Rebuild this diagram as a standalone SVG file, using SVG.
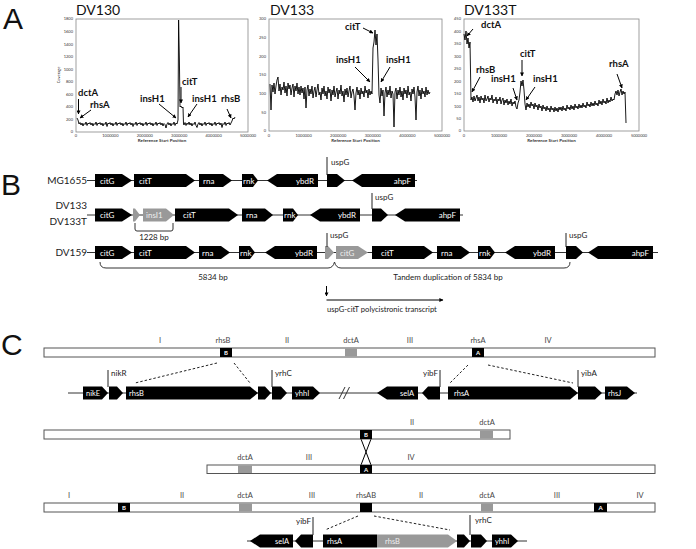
<svg xmlns="http://www.w3.org/2000/svg" width="696" height="549" viewBox="0 0 696 549">
<defs>
<marker id="ah" viewBox="0 0 10 10" refX="9" refY="5" markerWidth="4" markerHeight="4" orient="auto"><path d="M0,0 L10,5 L0,10 z" fill="#000"/></marker>
<marker id="ah2" viewBox="0 0 10 10" refX="9" refY="5" markerWidth="5" markerHeight="4" orient="auto"><path d="M0,0 L10,5 L0,10 z" fill="#000"/></marker>
<style>
text{font-family:Lato,"Liberation Sans",sans-serif;}
.pl{font-family:"Liberation Sans",sans-serif;font-size:30px;fill:#111;}
.tt{font-size:14px;fill:#111;}
.frame{fill:#fff;stroke:#888;stroke-width:0.8;}
.trace{fill:none;stroke:#000;stroke-width:0.9;stroke-linejoin:round;}
.tk{font-size:4px;fill:#333;}
.ax{font-size:4.5px;font-weight:bold;fill:#333;}
.bl{font-size:9.5px;font-weight:bold;fill:#111;}
.arr{stroke:#000;stroke-width:1;fill:none;marker-end:url(#ah);}
.g{fill:#000;}
.gg{fill:#999;}
.gt{font-size:8px;fill:#fff;}
.gtc{font-size:7.5px;fill:#fff;}
.lab{font-size:8px;fill:#222;}
.rl{font-size:10px;fill:#222;}
.bb{stroke:#333;stroke-width:1;fill:none;}
.tick{stroke:#222;stroke-width:1;}
.chr{fill:#fff;stroke:#555;stroke-width:1;}
.cl{font-size:7.5px;fill:#444;text-anchor:middle;}
.bk{font-size:6px;fill:#fff;text-anchor:middle;font-weight:bold;}
.dash{stroke:#222;stroke-width:1;stroke-dasharray:2.5,2;fill:none;}
.soft{opacity:0.99;}
</style>
</defs>

<!-- Panel A -->
<g id="panelA">
<text class="pl" x="3" y="28.5">A</text>
<g id="plot1">
<text class="tt" x="76" y="15">DV130</text>
<rect class="frame" x="76" y="19" width="172" height="113"/>
<g class="tk" text-anchor="end">
<text x="73" y="133.4">0</text><text x="73" y="120.8">200</text><text x="73" y="108.3">400</text><text x="73" y="95.7">600</text><text x="73" y="83.2">800</text><text x="73" y="70.6">1000</text><text x="73" y="58">1200</text><text x="73" y="45.5">1400</text><text x="73" y="32.9">1600</text><text x="73" y="20.4">1800</text>
</g>
<g class="tk" text-anchor="middle">
<text x="76" y="137">0</text><text x="110.4" y="137">1000000</text><text x="144.8" y="137">2000000</text><text x="179.2" y="137">3000000</text><text x="213.6" y="137">4000000</text><text x="248" y="137">5000000</text>
</g>
<text class="ax" x="162" y="141.5" text-anchor="middle">Reference Start Position</text>
<text class="tk" transform="translate(60,75) rotate(-90)" text-anchor="middle">Coverage</text>
<polyline class="trace" points="77,118 78,120 79,124 80,122.5 81,125 82,123 83,126 84,123.5 85,124.5 86,122 87,125.5 88,123 89,124 90,122.5 91,125 92,123 93,126 94,123.5 95,124.5 96,122 97,125.5 98,123 99,124 100,122.5 101,125 102,123 103,126 104,123.5 105,124.5 106,122 107,126.5 108,123 109,124 110,122.5 111,125 112,123 113,126 114,123.5 115,124.5 116,122 117,125.5 118,123 119,124 120,122.5 121,125 122,123 123,126 124,123.5 125,124.5 126,122 127,125.5 128,123 129,124 130,122.5 131,125 132,123 133,126.5 134,123.5 135,124.5 136,122 137,125.5 138,123 139,124 140,122.5 141,125 142,123 143,126 144,123.5 145,124.5 146,122 147,125.5 148,123 149,124 150,122.5 151,125 152,123 153,126 154,123.5 155,124.5 156,122 157,125.5 158,123 159,124 160,122.5 161,125 162,123 163,126 164,123.5 165,124.5 166,128 167,124 168,122.5 169,125 170,123 171,126 172,123.5 173,124.5 174,122 175,125.5 176,123 177,124 178,120 178.6,20 179.4,60 180,107 181,106 182,108 183,107 183.5,124 184,125 185,122.5 186,125.5 187,123 188,124.5 189,122 190,125 191,123 192,126 193,123.5 194,124.5 195,122 196,125.5 197,127.5 198,124 199,122.5 200,125 201,123 202,126 203,123.5 204,124.5 205,122 206,125.5 207,123 208,124 209,122.5 210,125 211,123 212,126 213,123.5 214,124.5 215,122 216,125.5 217,123 218,124 219,122.5 220,125 221,123 222,127.5 223,123.5 224,124.5 225,122 226,125.5 227,123 228,124 229,122.5 230,125 231,123 232,121 233,118 234,119 235,117"/>
<text class="bl" x="78" y="96">dctA</text>
<line class="arr" x1="78.5" y1="99" x2="78.5" y2="114"/>
<text class="bl" x="90" y="108">rhsA</text>
<line class="arr" x1="91" y1="110" x2="80" y2="118"/>
<text class="bl" x="140" y="102">insH1</text>
<line class="arr" x1="159" y1="104" x2="176" y2="118"/>
<text class="bl" x="182" y="85">citT</text>
<line class="arr" x1="181" y1="87" x2="181" y2="103"/>
<text class="bl" x="192" y="102">insH1</text>
<line class="arr" x1="197" y1="104" x2="188" y2="117"/>
<text class="bl" x="221" y="102">rhsB</text>
<line class="arr" x1="227" y1="109" x2="231" y2="118"/>
</g>

<g id="plot2">
<text class="tt" x="270" y="15">DV133</text>
<rect class="frame" x="269" y="19" width="173" height="112"/>
<g class="tk" text-anchor="end">
<text x="266" y="132.4">0</text><text x="266" y="113.7">50</text><text x="266" y="95.1">100</text><text x="266" y="76.4">150</text><text x="266" y="57.7">200</text><text x="266" y="39.1">250</text><text x="266" y="20.4">300</text>
</g>
<g class="tk" text-anchor="middle">
<text x="269" y="137">0</text><text x="303.6" y="137">1000000</text><text x="338.2" y="137">2000000</text><text x="372.8" y="137">3000000</text><text x="407.4" y="137">4000000</text><text x="442" y="137">5000000</text>
</g>
<text class="ax" x="355.5" y="141.5" text-anchor="middle">Reference Start Position</text>
<polyline class="trace" points="270,84 271,110 272,85 273,92 274,83 275,94 276,86 277,80 278,77 279,91 280,84 281,95 282,87 283,90 284,82 285,93 286,86 287,96 288,83 289,89 290,85 291,95 292,88 293,84 294,97 295,86 296,91 297,83 298,94 299,87 300,95 301,86 302,93 303,88 304,99 305,87 306,108 307,90 308,85 309,96 310,89 311,94 312,86 313,98 314,91 315,87 316,97 317,90 318,84 319,95 320,92 321,100 322,88 323,94 324,86 325,96 326,91 327,99 328,87 329,93 330,89 331,101 332,90 333,95 334,86 335,97 336,92 337,88 338,99 339,90 340,94 341,85 342,96 343,91 344,102 345,89 346,95 347,88 348,97 349,91 350,86 351,98 352,92 353,89 354,96 355,110 356,93 357,87 358,95 359,90 360,99 361,88 362,94 363,91 364,97 365,86 366,93 367,90 368,98 369,89 370,95 371,91 372,94 373,48 374,42 375,30 376,45 377,34 378,60 379,95 380,103 381,88 382,96 383,90 384,116 385,93 386,87 387,97 388,90 389,95 390,86 391,98 392,91 393,94 394,127 395,92 396,88 397,99 398,90 399,95 400,87 401,97 402,91 403,100 404,88 405,94 406,90 407,98 408,86 409,95 410,92 411,101 412,89 413,94 414,87 415,97 416,120 417,92 418,86 419,96 420,90 421,99 422,88 423,94 424,91 425,97 426,87 427,95 428,90 429,94 430,92"/>
<text class="bl" x="345" y="30">citT</text>
<line class="arr" x1="363" y1="28" x2="373" y2="33"/>
<text class="bl" x="336" y="63">insH1</text>
<line class="arr" x1="355" y1="67" x2="370" y2="82"/>
<text class="bl" x="386" y="63">insH1</text>
<line class="arr" x1="390" y1="67" x2="381" y2="82"/>
</g>

<g id="plot3">
<text class="tt" x="464" y="15">DV133T</text>
<rect class="frame" x="464" y="19" width="175" height="112"/>
<g class="tk" text-anchor="end">
<text x="461" y="132.4">0</text><text x="461" y="120">50</text><text x="461" y="107.5">100</text><text x="461" y="95.1">150</text><text x="461" y="82.6">200</text><text x="461" y="70.2">250</text><text x="461" y="57.7">300</text><text x="461" y="45.3">350</text><text x="461" y="32.8">400</text><text x="461" y="20.4">450</text>
</g>
<g class="tk" text-anchor="middle">
<text x="464" y="137">0</text><text x="499" y="137">1000000</text><text x="534" y="137">2000000</text><text x="569" y="137">3000000</text><text x="604" y="137">4000000</text><text x="639" y="137">5000000</text>
</g>
<text class="ax" x="551.5" y="141.5" text-anchor="middle">Reference Start Position</text>
<polyline class="trace" points="464,34 465,40 466,31 467,44 468,38 469,48 470,42 471,100 472,97 473,102 474,96 475,101 476,98 477,95 478,101 479,97 480,103 481,96 482,100 483,98 484,103 485,95 486,101 487,99 488,96 489,102 490,98 491,100 492,95 493,103 494,99 495,101 496,97 497,104 498,99 499,101 500,97 501,104 502,100 503,98 504,105 505,100 506,103 507,99 508,105 509,101 510,104 511,99 512,106 513,102 514,104 515,101 516,107 517,109 518,103 519,100 520,92 521,81 522,86 523,80 524,90 525,104 526,110 527,103 528,107 529,104 530,108 531,102 532,106 533,104 534,109 535,103 536,107 537,105 538,110 539,104 540,108 541,106 542,111 543,105 544,109 545,107 546,111 547,106 548,110 549,108 550,112 551,106 552,110 553,108 554,112 555,107 556,111 557,108 558,112 559,107 560,110 561,107 562,111 563,106 564,110 565,108 566,111 567,105 568,109 569,107 570,110 571,105 572,109 573,106 574,110 575,104 576,108 577,106 578,109 579,104 580,108 581,105 582,108 583,103 584,107 585,105 586,108 587,102 588,106 589,104 590,107 591,102 592,106 593,103 594,106 595,101 596,105 597,103 598,106 599,100 600,104 601,101 602,105 603,99 604,103 605,101 606,104 607,98 608,103 609,100 610,102 611,97 612,101 613,99 614,100 615,94 616,91 617,95 618,90 619,96 620,92 621,89 622,95 623,91 624,94 625,92 626,123"/>
<text class="bl" x="481" y="28">dctA</text>
<line class="arr" x1="473" y1="29" x2="467" y2="36"/>
<text class="bl" x="476" y="73">rhsB</text>
<line class="arr" x1="480" y1="77" x2="472" y2="92"/>
<text class="bl" x="491" y="82">insH1</text>
<line class="arr" x1="513" y1="88" x2="517" y2="100"/>
<text class="bl" x="520" y="57">citT</text>
<line class="arr" x1="522" y1="60" x2="522" y2="76"/>
<text class="bl" x="533" y="82">insH1</text>
<line class="arr" x1="535" y1="87" x2="526" y2="100"/>
<text class="bl" x="609" y="67">rhsA</text>
<line class="arr" x1="617" y1="74" x2="622" y2="88"/>
</g>
</g>

<!-- Panel B -->
<g id="panelB">
<text class="pl" x="1" y="195">B</text>

<g id="rowMG1655">
<text class="rl" x="87" y="184" text-anchor="end">MG1655</text>
<line class="bb" x1="87" y1="180.5" x2="417" y2="180.5"/>
<polygon class="g" points="95,174 122,174 132,180.5 122,187 95,187"/>
<polygon class="g" points="134,174 186,174 195,180.5 186,187 134,187"/>
<polygon class="g" points="199,174 223,174 232,180.5 223,187 199,187"/>
<polygon class="g" points="242,174 253,174 258,180.5 253,187 242,187"/>
<polygon class="g" points="267,180.5 277,174 318,174 318,187 277,187"/>
<polygon class="g" points="327,174 337,174 345,180.5 337,187 327,187"/>
<polygon class="g" points="352,180.5 362,174 415,174 415,187 362,187"/>
<line class="tick" x1="327" y1="157" x2="327" y2="175"/>
<text class="lab" x="331" y="165">uspG</text>
<g class="gt"><text x="100" y="183.5">citG</text><text x="139" y="183.5">citT</text><text x="203" y="183.5">rna</text><text x="243" y="183.5">rnk</text><text x="314" y="183.5" text-anchor="end">ybdR</text><text x="411" y="183.5" text-anchor="end">ahpF</text></g>
</g>

<g id="rowDV133">
<text class="rl" x="87" y="209" text-anchor="end">DV133</text>
<text class="rl" x="87" y="225" text-anchor="end">DV133T</text>
<line class="bb" x1="87" y1="215" x2="463" y2="215"/>
<polygon class="g" points="95,208.5 122,208.5 132,215 122,221.5 95,221.5"/>
<polygon class="gg" points="133,208.5 135,208.5 140,215 135,221.5 133,221.5"/>
<polygon class="gg" points="143,208.5 166,208.5 174,215 166,221.5 143,221.5"/>
<polygon class="g" points="175,208.5 229,208.5 238,215 229,221.5 175,221.5"/>
<polygon class="g" points="242,208.5 265,208.5 273,215 265,221.5 242,221.5"/>
<polygon class="g" points="283,208.5 293,208.5 298,215 293,221.5 283,221.5"/>
<polygon class="g" points="310,215 320,208.5 360,208.5 360,221.5 320,221.5"/>
<polygon class="g" points="372,208.5 381,208.5 388,215 381,221.5 372,221.5"/>
<polygon class="g" points="395,215 405,208.5 460,208.5 460,221.5 405,221.5"/>
<line class="tick" x1="372" y1="193" x2="372" y2="209"/>
<text class="lab" x="375" y="200">uspG</text>
<g class="gt"><text x="146" y="218" fill="#eee">insI1</text><text x="100" y="218">citG</text><text x="183" y="218">citT</text><text x="246" y="218">rna</text><text x="284" y="218">rnk</text><text x="356" y="218" text-anchor="end">ybdR</text><text x="456" y="218" text-anchor="end">ahpF</text></g>
<path class="bb" d="M135,223 V229 Q135,231 137,231 H171 Q173,231 173,229 V223"/>
<text class="lab" x="154" y="240" text-anchor="middle">1228 bp</text>
</g>

<g id="rowDV159">
<text class="rl" x="87" y="256" text-anchor="end">DV159</text>
<line class="bb" x1="87" y1="252.5" x2="658" y2="252.5"/>
<polygon class="g" points="95,246 122,246 132,252.5 122,259 95,259"/>
<polygon class="g" points="134,246 186,246 195,252.5 186,259 134,259"/>
<polygon class="g" points="199,246 221,246 230,252.5 221,259 199,259"/>
<polygon class="g" points="239,246 250,246 255,252.5 250,259 239,259"/>
<polygon class="g" points="265,252.5 275,246 317,246 317,259 275,259"/>
<polygon class="gg" points="325,246 328,246 334,252.5 328,259 325,259"/>
<polygon class="gg" points="336,246 358,246 368,252.5 358,259 336,259"/>
<polygon class="g" points="372,246 424,246 433,252.5 424,259 372,259"/>
<polygon class="g" points="437,246 461,246 470,252.5 461,259 437,259"/>
<polygon class="g" points="478,246 490,246 495,252.5 490,259 478,259"/>
<polygon class="g" points="505,252.5 515,246 555,246 555,259 515,259"/>
<polygon class="g" points="566,246 576,246 583,252.5 576,259 566,259"/>
<polygon class="g" points="588,252.5 598,246 653,246 653,259 598,259"/>
<line class="tick" x1="327" y1="233" x2="327" y2="247"/>
<text class="lab" x="330" y="238">uspG</text>
<line class="tick" x1="566" y1="233" x2="566" y2="247"/>
<text class="lab" x="569" y="238">uspG</text>
<g class="gt"><text x="100" y="255.5">citG</text><text x="139" y="255.5">citT</text><text x="202" y="255.5">rna</text><text x="240" y="255.5">rnk</text><text x="313" y="255.5" text-anchor="end">ybdR</text><text x="340" y="255.5" fill="#eee">citG</text><text x="381" y="255.5">citT</text><text x="441" y="255.5">rna</text><text x="479" y="255.5">rnk</text><text x="551" y="255.5" text-anchor="end">ybdR</text><text x="649" y="255.5" text-anchor="end">ahpF</text></g>
<path class="bb" d="M100,262 Q100,268 106,268 H328 Q333,268 334.5,262 Q336,268 341,268 H564 Q570,268 570,262"/>
<text class="lab" x="213" y="280" text-anchor="middle">5834 bp</text>
<text class="lab" x="448" y="280" text-anchor="middle">Tandem duplication of 5834 bp</text>
</g>

<g id="transcript">
<line class="arr" x1="326.5" y1="286" x2="326.5" y2="296"/>
<line x1="326.5" y1="300" x2="443" y2="300" stroke="#000" stroke-width="1" marker-end="url(#ah2)"/>
<text class="lab" x="327" y="312" style="font-size:7.6px">uspG-citT polycistronic transcript</text>
</g>
</g>

<!-- Panel C -->
<g id="panelC">
<text class="pl" x="1" y="355">C</text>

<g id="chr1">
<rect class="chr" x="44" y="348" width="611" height="9"/>
<rect x="220" y="348" width="12" height="9" fill="#000"/><text class="bk" x="226" y="354.8">B</text>
<rect x="345" y="348.5" width="12" height="8" fill="#999"/>
<rect x="472" y="348" width="12" height="9" fill="#000"/><text class="bk" x="478" y="354.8">A</text>
<g class="soft"><text class="cl" x="160" y="343">I</text><text class="cl" x="223" y="343">rhsB</text><text class="cl" x="287" y="343">II</text><text class="cl" x="351" y="343">dctA</text><text class="cl" x="410" y="343">III</text><text class="cl" x="478" y="343">rhsA</text><text class="cl" x="548" y="343">IV</text></g>
</g>

<g id="connectors">
<line class="dash" x1="217" y1="363" x2="135" y2="383"/>
<line class="dash" x1="234" y1="363" x2="250" y2="383"/>
<line class="dash" x1="468" y1="365" x2="450" y2="383"/>
<line class="dash" x1="488" y1="365" x2="573" y2="383"/>
<line class="dash" x1="358" y1="516" x2="325" y2="530"/>
<line class="dash" x1="374" y1="516" x2="450" y2="530"/>
<line stroke="#000" stroke-width="1" x1="361" y1="439" x2="371" y2="465"/>
<line stroke="#000" stroke-width="1" x1="371" y1="439" x2="361" y2="465"/>
</g>

<g id="genes1">
<line class="bb" x1="68" y1="393" x2="637" y2="393"/>
<line stroke="#333" stroke-width="1" x1="339" y1="399" x2="345" y2="387"/>
<line stroke="#333" stroke-width="1" x1="343.5" y1="399" x2="349.5" y2="387"/>
<polygon class="g" points="83,386.5 102,386.5 108,393 102,399.5 83,399.5"/>
<polygon class="g" points="109,386.5 117,386.5 123,393 117,399.5 109,399.5"/>
<polygon class="g" points="126,386.5 250,386.5 258,393 250,399.5 126,399.5"/>
<polygon class="g" points="258,386.5 265,386.5 271,393 265,399.5 258,399.5"/>
<polygon class="g" points="272,386.5 281,386.5 287,393 281,399.5 272,399.5"/>
<polygon class="g" points="292,386.5 313,386.5 320,393 313,399.5 292,399.5"/>
<polygon class="g" points="377,393 387,386.5 418,386.5 418,399.5 387,399.5"/>
<polygon class="g" points="422,393 428,386.5 440,386.5 440,399.5 428,399.5"/>
<polygon class="g" points="448,386.5 570,386.5 578,393 570,399.5 448,399.5"/>
<polygon class="g" points="578,386.5 595,386.5 602,393 595,399.5 578,399.5"/>
<polygon class="g" points="605,386.5 627,386.5 635,393 627,399.5 605,399.5"/>
<line class="tick" x1="108" y1="370" x2="108" y2="387"/><text class="lab" x="111" y="376">nikR</text>
<line class="tick" x1="272" y1="370" x2="272" y2="387"/><text class="lab" x="275" y="376">yrhC</text>
<line class="tick" x1="440" y1="370" x2="440" y2="387"/><text class="lab" x="438" y="376" text-anchor="end">yibF</text>
<line class="tick" x1="578" y1="370" x2="578" y2="387"/><text class="lab" x="581" y="376">yibA</text>
<g class="gtc"><text x="86" y="395.8">nikE</text><text x="129" y="395.8">rhsB</text><text x="295" y="395.8">yhhI</text><text x="414" y="395.8" text-anchor="end">selA</text><text x="454" y="395.8">rhsA</text><text x="608" y="395.8">rhsJ</text></g>
</g>

<g id="chr2">
<rect class="chr" x="44" y="430" width="466" height="9"/>
<rect x="360" y="430" width="12" height="9" fill="#000"/><text class="bk" x="366" y="436.8">B</text>
<rect x="480" y="430.5" width="13" height="8" fill="#999"/>
<g class="soft"><text class="cl" x="412" y="425">II</text><text class="cl" x="487" y="425">dctA</text></g>
</g>

<g id="chr3">
<rect class="chr" x="207" y="465" width="448" height="8.5"/>
<rect x="238" y="465.5" width="14" height="7.5" fill="#999"/>
<rect x="360" y="465" width="12" height="8.5" fill="#000"/><text class="bk" x="366" y="471.5">A</text>
<g class="soft"><text class="cl" x="245" y="460">dctA</text><text class="cl" x="309" y="460">III</text><text class="cl" x="411" y="460">IV</text></g>
</g>

<g id="chr4">
<rect class="chr" x="44" y="503" width="611" height="9"/>
<rect x="118" y="503" width="12" height="9" fill="#000"/><text class="bk" x="124" y="509.8">B</text>
<rect x="239" y="503.5" width="13" height="8" fill="#999"/>
<rect x="360" y="503" width="12" height="9" fill="#000"/>
<rect x="481" y="503.5" width="12" height="8" fill="#999"/>
<rect x="594" y="503" width="13" height="9" fill="#000"/><text class="bk" x="600.5" y="509.8">A</text>
<g class="soft"><text class="cl" x="69" y="498">I</text><text class="cl" x="182" y="498">II</text><text class="cl" x="245" y="498">dctA</text><text class="cl" x="312" y="498">III</text><text class="cl" x="366" y="498">rhsAB</text><text class="cl" x="421" y="498">II</text><text class="cl" x="487" y="498">dctA</text><text class="cl" x="557" y="498">III</text><text class="cl" x="640" y="498">IV</text></g>
</g>

<g id="genes2">
<line class="bb" x1="247" y1="541" x2="527" y2="541"/>
<polygon class="g" points="250,541 260,534.5 293,534.5 293,547.5 260,547.5"/>
<polygon class="g" points="295,541 301,534.5 313,534.5 313,547.5 301,547.5"/>
<rect class="g" x="323" y="534.5" width="54" height="13"/>
<polygon class="gg" points="377,534.5 448,534.5 457,541 448,547.5 377,547.5"/>
<polygon class="g" points="457,534.5 464,534.5 470,541 464,547.5 457,547.5"/>
<polygon class="g" points="471,534.5 481,534.5 487,541 481,547.5 471,547.5"/>
<polygon class="g" points="492,534.5 511,534.5 518,541 511,547.5 492,547.5"/>
<line class="tick" x1="313" y1="517" x2="313" y2="535"/><text class="lab" x="311" y="524" text-anchor="end">yibF</text>
<line class="tick" x1="470" y1="515" x2="470" y2="535"/><text class="lab" x="475" y="523">yrhC</text>
<g class="gtc"><text x="289" y="543.8" text-anchor="end">selA</text><text x="327" y="543.8">rhsA</text><text x="385" y="543.8" fill="#eee">rhsB</text><text x="495" y="543.8">yhhI</text></g>
</g>
</g>
</svg>
